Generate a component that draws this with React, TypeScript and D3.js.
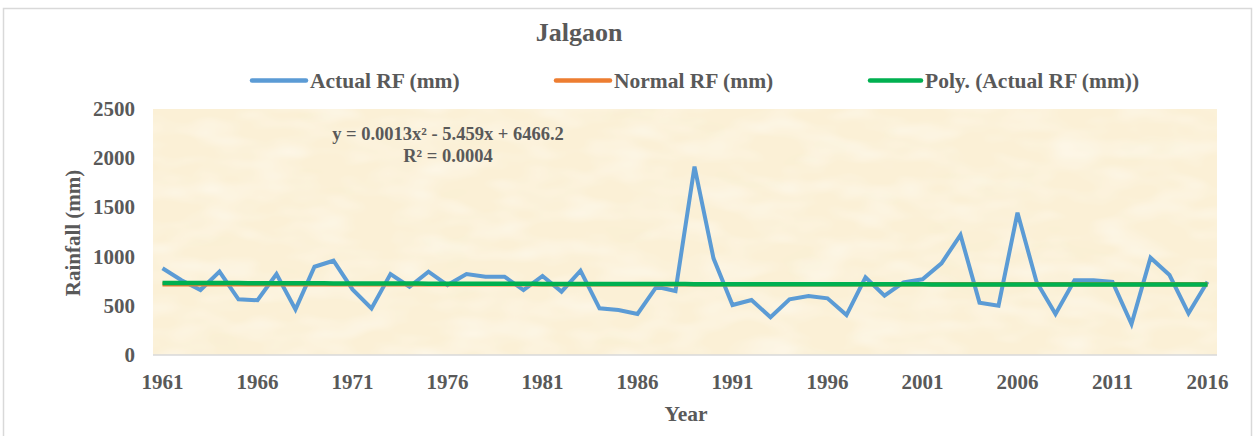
import React from "react";
import * as d3 from "d3";

const YEARS: number[] = d3.range(1961, 2017);
const ACTUAL_RF: number[] = [
  881, 760, 660, 847, 566, 556, 823, 464, 897, 958,
  667, 474, 823, 694, 847, 711, 823, 796, 796, 660,
  803, 644, 857, 474, 457, 417, 694, 650, 1914, 982,
  508, 559, 383, 566, 600, 576, 406, 789, 603, 738,
  769, 932, 1220, 532, 501, 1446, 745, 417, 759, 759,
  742, 315, 989, 813, 424, 745,
];
const NORMAL_RF_VALUE = 718;
const Y_TICKS: number[] = [0, 500, 1000, 1500, 2000, 2500];
const X_TICK_LABELS: number[] = [1961, 1966, 1971, 1976, 1981, 1986, 1991, 1996, 2001, 2006, 2011, 2016];
const LEGEND = [
  { label: "Actual RF (mm)", color: "#5B9BD5", x0: 252, x1: 306, tx: 310 },
  { label: "Normal RF (mm)", color: "#ED7D31", x0: 556, x1: 610, tx: 614 },
  { label: "Poly. (Actual RF (mm))", color: "#00B050", x0: 870, x1: 921, tx: 925 },
];

// least squares quadratic fit (trendline computed from the data)
function polyFit(xs: number[], ys: number[]) {
  const n = xs.length;
  let s0 = n, s1 = 0, s2 = 0, s3 = 0, s4 = 0, t0 = 0, t1 = 0, t2 = 0;
  for (let i = 0; i < n; i++) {
    const x = xs[i], y = ys[i];
    s1 += x; s2 += x * x; s3 += x * x * x; s4 += x * x * x * x;
    t0 += y; t1 += x * y; t2 += x * x * y;
  }
  const A = [
    [s0, s1, s2, t0],
    [s1, s2, s3, t1],
    [s2, s3, s4, t2],
  ];
  for (let i = 0; i < 3; i++) {
    for (let k = i + 1; k < 3; k++) {
      const f = A[k][i] / A[i][i];
      for (let j = i; j < 4; j++) A[k][j] -= f * A[i][j];
    }
  }
  const c = [0, 0, 0];
  for (let i = 2; i >= 0; i--) {
    let s = A[i][3];
    for (let j = i + 1; j < 3; j++) s -= A[i][j] * c[j];
    c[i] = s / A[i][i];
  }
  return (x: number) => c[0] + c[1] * x + c[2] * x * x;
}

export default function App() {
  const W = 1258, H = 436;
  const left = 153, right = 1217, top = 109, bottom = 355;
  const x = d3.scaleBand<number>().domain(YEARS).range([left, right]).padding(0);
  const cx = (yr: number) => (x(yr) as number) + x.bandwidth() / 2;
  const y = d3.scaleLinear().domain([0, 2500]).range([bottom, top]);

  const idx = YEARS.map((_, i) => i);
  const fit = polyFit(idx, ACTUAL_RF);

  const line = d3.line<[number, number]>().x((d) => d[0]).y((d) => d[1]);
  const actualPath = line(YEARS.map((yr, i) => [cx(yr), y(ACTUAL_RF[i])]));
  const normalPath = line(YEARS.map((yr) => [cx(yr), y(NORMAL_RF_VALUE)]));
  const polyPts: [number, number][] = [];
  for (let t = 0; t <= 55; t += 0.5) {
    polyPts.push([cx(1961) + (cx(2016) - cx(1961)) * (t / 55), y(fit(t))]);
  }
  const polyPath = line(polyPts);

  const font = "'Liberation Serif', 'Times New Roman', serif";
  const textColor = "#595959";

  return (
    <svg width={W} height={H} style={{ display: "block", position: "absolute", left: 0, top: 0 }}>
      <defs>
        <filter id="tex" x="0" y="0" width="100%" height="100%">
          <feTurbulence type="fractalNoise" baseFrequency="0.012 0.03" numOctaves={3} seed={7} result="n" />
          <feColorMatrix
            in="n"
            type="matrix"
            values="0 0 0 0 0.95  0 0 0 0 0.86  0 0 0 0 0.66  0.9 0 0 0 -0.33"
          />
        </filter>
        <filter id="tex2" x="0" y="0" width="100%" height="100%">
          <feTurbulence type="fractalNoise" baseFrequency="0.02 0.05" numOctaves={2} seed={3} result="n" />
          <feColorMatrix
            in="n"
            type="matrix"
            values="0 0 0 0 1  0 0 0 0 0.99  0 0 0 0 0.96  0.9 0 0 0 -0.35"
          />
        </filter>
      </defs>
      <rect x={0} y={0} width={W} height={H} fill="#ffffff" />
      <rect x={3.5} y={8.5} width={1248} height={440} fill="#ffffff" stroke="#D9D9D9" strokeWidth={1.5} />

      {/* plot area background */}
      <rect x={left} y={top} width={right - left} height={bottom - top} fill="#FBF0D6" />
      <rect x={left} y={top} width={right - left} height={bottom - top} filter="url(#tex)" />
      <rect x={left} y={top} width={right - left} height={bottom - top} filter="url(#tex2)" />
      <line x1={left} x2={right} y1={bottom} y2={bottom} stroke="#D9D9D9" strokeWidth={1.5} />

      {/* title */}
      <text x={579} y={41} textAnchor="middle" fontFamily={font} fontWeight="bold" fontSize={26} fill={textColor}>
        Jalgaon
      </text>

      {/* legend */}
      {LEGEND.map((l) => (
        <g key={l.label}>
          <line x1={l.x0} x2={l.x1} y1={80.5} y2={80.5} stroke={l.color} strokeWidth={4.5} strokeLinecap="round" />
          <text x={l.tx} y={87.5} fontFamily={font} fontWeight="bold" fontSize={21.5} fill={textColor}>
            {l.label}
          </text>
        </g>
      ))}

      {/* y ticks */}
      {Y_TICKS.map((t) => (
        <text key={t} x={135} y={y(t) + 7} textAnchor="end" fontFamily={font} fontWeight="bold" fontSize={21} fill={textColor}>
          {t}
        </text>
      ))}
      <text
        transform={`translate(80,233) rotate(-90)`}
        textAnchor="middle"
        fontFamily={font}
        fontWeight="bold"
        fontSize={21}
        fill={textColor}
      >
        Rainfall (mm)
      </text>

      {/* x ticks */}
      {X_TICK_LABELS.map((yr) => (
        <text key={yr} x={cx(yr)} y={389} textAnchor="middle" fontFamily={font} fontWeight="bold" fontSize={21} fill={textColor}>
          {yr}
        </text>
      ))}
      <text x={686} y={421} textAnchor="middle" fontFamily={font} fontWeight="bold" fontSize={21.5} fill={textColor}>
        Year
      </text>

      {/* series */}
      <path d={actualPath || ""} fill="none" stroke="#5B9BD5" strokeWidth={4} strokeLinejoin="miter" />
      <path d={normalPath || ""} fill="none" stroke="#ED7D31" strokeWidth={4.5} />
      <path d={polyPath || ""} fill="none" stroke="#00B050" strokeWidth={4.5} />

      {/* trendline equation */}
      <text x={448} y={140} textAnchor="middle" fontFamily={font} fontWeight="bold" fontSize={18.5} fill={textColor}>
        y = 0.0013x² - 5.459x + 6466.2
      </text>
      <text x={448} y={162} textAnchor="middle" fontFamily={font} fontWeight="bold" fontSize={18.5} fill={textColor}>
        R² = 0.0004
      </text>
    </svg>
  );
}
